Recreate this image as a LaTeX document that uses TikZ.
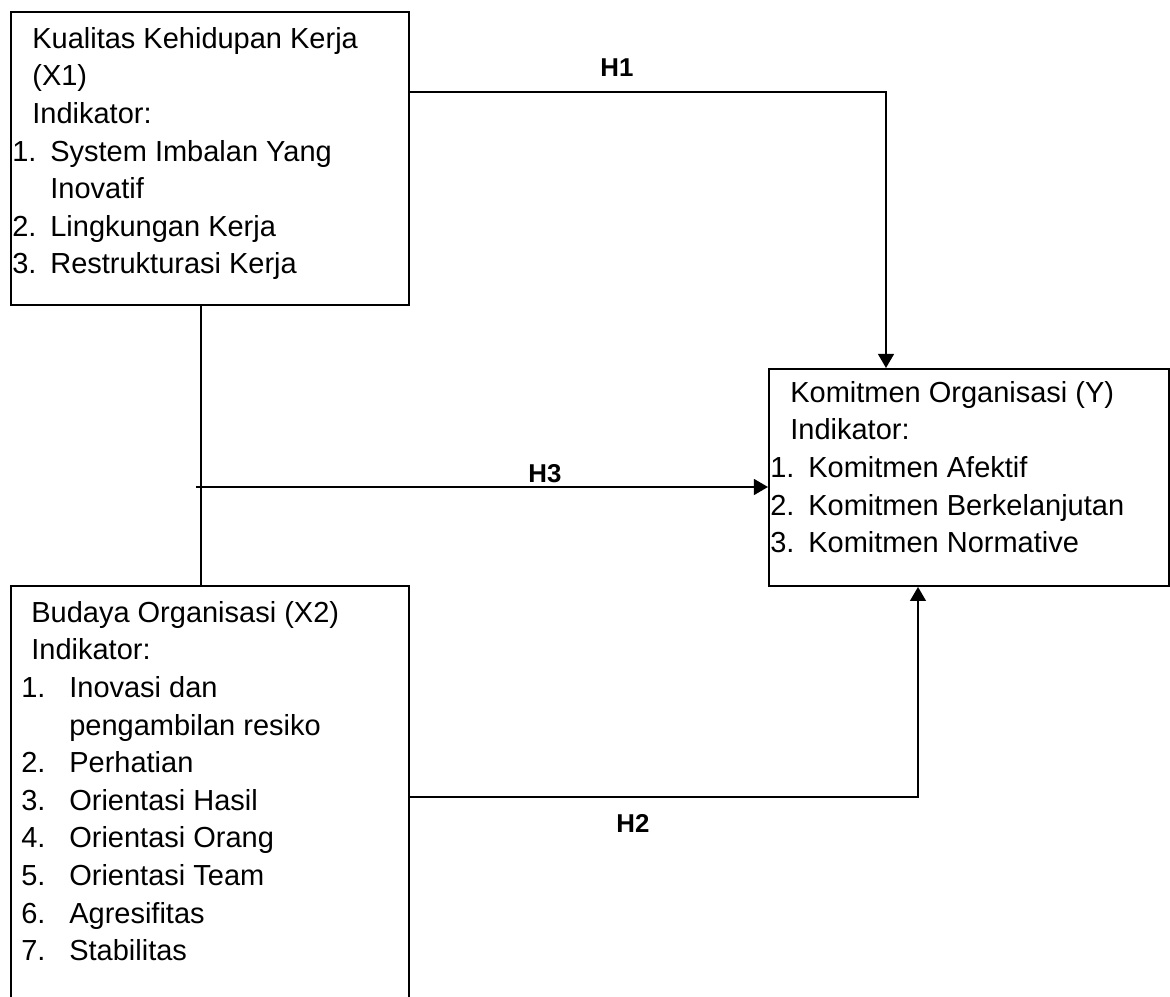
\documentclass[tikz,border=0pt]{standalone}
\usepackage{fontspec}
\setmainfont{Liberation Sans}
\usepackage{array}
\usetikzlibrary{arrows.meta,positioning}
\newlength\pxu
\setlength\pxu{0.02cm}

\begin{document}
\begin{tikzpicture}[x=0.02cm, y=-0.02cm,
    box/.style={draw, line width=1.1pt, anchor=north west, inner sep=0pt},
    boxtext/.style={anchor=north west, inner sep=0pt, font=\fontsize{16.5}{21.4}\selectfont},
    hyp/.style={anchor=base, inner sep=0pt, font=\fontsize{14.7}{17}\selectfont\bfseries},
    link/.style={line width=1.1pt},
    arr/.style={link, -{Triangle[length=8pt,width=9pt]}}]
    \clip (0,0) rectangle (1170,997);

    % variables
    \node[box, minimum width=398\pxu, minimum height=293\pxu] (x1) at (10,11) {};
    \node[box, minimum width=398\pxu, minimum height=440\pxu] (x2) at (10,585) {};
    \node[box, minimum width=400\pxu, minimum height=217\pxu] (y) at (768,368) {};

    \node[boxtext] (x1txt) at ([shift={(2,10.6)}]x1.north west) {%
      \begin{tabular}{@{}p{38\pxu}@{}l@{}}
        \multicolumn{2}{@{}l@{}}{\hspace{20\pxu}Kualitas Kehidupan Kerja}\\
        \multicolumn{2}{@{}l@{}}{\hspace{20\pxu}(X1)}\\
        \multicolumn{2}{@{}l@{}}{\hspace{20\pxu}Indikator:}\\
        1. & System Imbalan Yang\\
           & Inovatif\\
        2. & Lingkungan Kerja\\
        3. & Restrukturasi Kerja
      \end{tabular}};
    \node[boxtext] (x2txt) at ([shift={(11,10.6)}]x2.north west) {%
      \begin{tabular}{@{}p{48\pxu}@{}l@{}}
        \multicolumn{2}{@{}l@{}}{\hspace{10\pxu}Budaya Organisasi (X2)}\\
        \multicolumn{2}{@{}l@{}}{\hspace{10\pxu}Indikator:}\\
        1. & Inovasi dan\\
           & pengambilan resiko\\
        2. & Perhatian\\
        3. & Orientasi Hasil\\
        4. & Orientasi Orang\\
        5. & Orientasi Team\\
        6. & Agresifitas\\
        7. & Stabilitas
      \end{tabular}};
    \node[boxtext] (ytxt) at ([shift={(2,7.6)}]y.north west) {%
      \begin{tabular}{@{}p{38\pxu}@{}l@{}}
        \multicolumn{2}{@{}l@{}}{\hspace{20\pxu}Komitmen Organisasi (Y)}\\
        \multicolumn{2}{@{}l@{}}{\hspace{20\pxu}Indikator:}\\
        1. & Komitmen Afektif\\
        2. & Komitmen Berkelanjutan\\
        3. & Komitmen Normative
      \end{tabular}};

    % hypotheses
    \coordinate (h1turn) at (886,92);
    \coordinate (h2turn) at (918,797);
    \coordinate (vlink) at (201,487);
    \coordinate (h3start) at (196,487);

    \draw[arr] (x1.east |- h1turn) -- (h1turn) -- (y.north -| h1turn);
    \draw[arr] (x2.east |- h2turn) -- (h2turn) -- (y.south -| h2turn);
    \draw[link] (x1.south -| vlink) -- (x2.north -| vlink);
    \draw[arr] (h3start) -- (y.west |- h3start);

    \node[hyp] (h1lab) at (617,77) {H1};
    \node[hyp] (h3lab) at (545,482) {H3};
    \node[hyp] (h2lab) at (633,832) {H2};
\end{tikzpicture}
\end{document}
